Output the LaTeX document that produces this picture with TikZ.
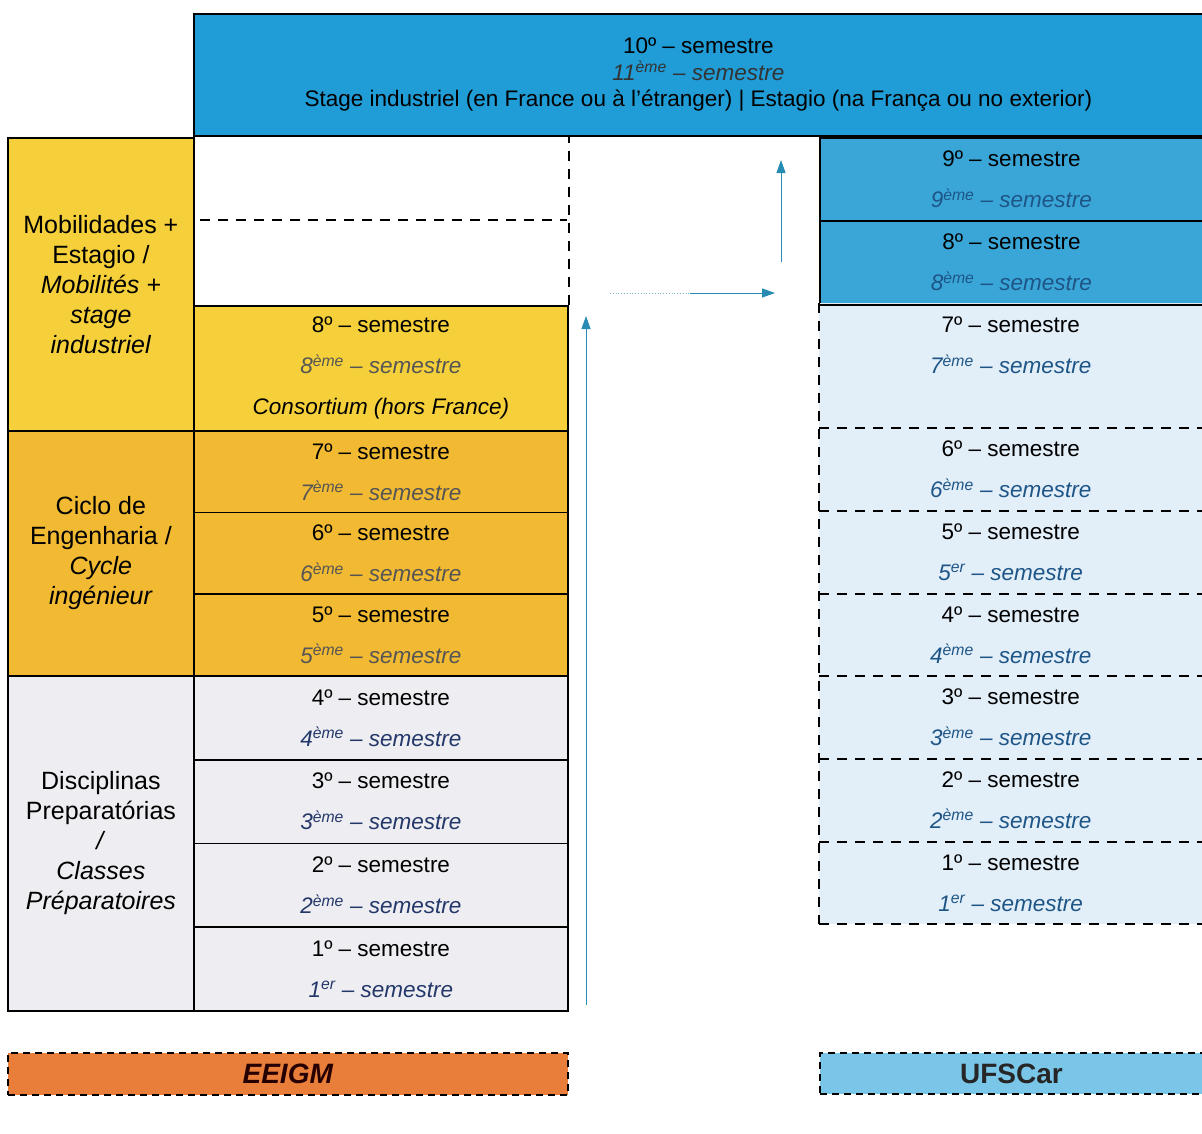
\documentclass[tikz,border=0pt]{standalone}
\usepackage{fontspec}
\setmainfont{Liberation Sans}
\usepackage{xcolor}
\usetikzlibrary{positioning,arrows.meta}

\definecolor{topblue}{RGB}{32,156,214}
\definecolor{rblue}{RGB}{58,166,216}
\definecolor{rlight}{RGB}{226,238,248}
\definecolor{yellowA}{RGB}{245,208,58}
\definecolor{orangeA}{RGB}{241,186,50}
\definecolor{grayA}{RGB}{238,238,242}
\definecolor{eeigmc}{RGB}{232,126,58}
\definecolor{ufscarc}{RGB}{122,198,232}
\definecolor{teal}{RGB}{40,140,178}
\definecolor{grayt}{RGB}{85,85,85}
\definecolor{navyt}{RGB}{35,55,105}
\definecolor{bluet}{RGB}{30,85,135}

% semester cell text: number, ordinal, colour of the french line
\newcommand{\semtxt}[3]{#1º – semestre\\{\itshape\color{#3}#1\textsuperscript{#2} – semestre}}

\begin{document}
\begin{tikzpicture}[x=1pt,y=-1pt,
    box/.style={draw=black, line width=1.8pt, anchor=north west, inner sep=0pt,
      align=center, font=\fontsize{22.5}{41}\selectfont},
    lightcell/.style={fill=rlight, anchor=north west, inner sep=0pt,
      minimum width=383pt, align=center, font=\fontsize{22.5}{41}\selectfont},
    dashline/.style={line width=2pt, dash pattern=on 10pt off 8pt},
    tag/.style={draw=black, line width=2pt, dash pattern=on 7pt off 5pt,
      anchor=north west, inner sep=0pt, font=\fontsize{28}{30}\selectfont\bfseries},
    flow/.style={teal, line width=0.9pt, -{Triangle[length=13pt,width=9pt]}}]

    \fill[white] (0,0) rectangle (1202,1133);
    \useasboundingbox (0,0) rectangle (1202,1133);

    % top band
    \node[box, fill=topblue, minimum width=1009pt, minimum height=122pt,
      font=\fontsize{22.5}{26.5}\selectfont] (top) at (193,13)
      {10º – semestre\\{\itshape\color{black!80}11\textsuperscript{ème} – semestre}\\
       Stage industriel (en France ou à l'étranger) | Estagio (na França ou no exterior)};

    % EEIGM side
    \node[box, fill=yellowA, minimum width=186pt, minimum height=293pt,
      font=\fontsize{25}{30}\selectfont] (mob) at (7,137)
      {Mobilidades +\\Estagio /\\\textit{Mobilités +}\\\textit{stage}\\\textit{industriel}};
    \node[box, fill=orangeA, minimum width=186pt, minimum height=245pt,
      font=\fontsize{25}{30}\selectfont] (cic) at (7,430)
      {Ciclo de\\Engenharia /\\\textit{Cycle}\\\textit{ingénieur}};
    \node[box, fill=grayA, minimum width=186pt, minimum height=335pt,
      font=\fontsize{25}{30}\selectfont] (dis) at (7,675)
      {Disciplinas\\Preparatórias\\\textit{/}\\\textit{Classes}\\\textit{Préparatoires}};

    \node[box, fill=yellowA, minimum width=374pt, minimum height=125pt] (m8) at (193,305)
      {\semtxt{8}{ème}{grayt}\\\textit{Consortium (hors France)}};
    \foreach \n/\y in {7/430,6/511.67,5/593.33}
      \node[box, fill=orangeA, minimum width=374pt, minimum height=81.67pt] (m\n) at (193,\y)
        {\semtxt{\n}{ème}{grayt}};
    \foreach \n/\o/\y in {4/ème/675,3/ème/758.75,2/ème/842.5,1/er/926.25}
      \node[box, fill=grayA, minimum width=374pt, minimum height=83.75pt] (m\n) at (193,\y)
        {\semtxt{\n}{\o}{navyt}};

    \coordinate (dl) at (200,220);
    \coordinate (dr) at (567,220);
    \draw[dashline] (dl) -- (dr);
    \draw[dashline] (m8.north east) -- (m8.north east |- top.south);

    % UFSCar side
    \foreach \n/\y in {9/137,8/220}
      \node[box, fill=rblue, minimum width=383pt, minimum height=83pt] (r\n) at (819,\y)
        {\semtxt{\n}{ème}{bluet}};
    \node[lightcell, minimum height=125pt] (r7) at (819,303)
      {\semtxt{7}{ème}{bluet}\\\mbox{}};
    \foreach \n/\o/\y in {6/ème/428,5/er/510.67,4/ème/593.33,3/ème/676,2/ème/758.67,1/er/841.33}
      \node[lightcell, minimum height=82.67pt] (r\n) at (819,\y)
        {\semtxt{\n}{\o}{bluet}};
    \draw[dashline] (r7.north west) -- (r1.south west);
    \foreach \n in {7,...,1}
      \draw[dashline] (r\n.south west) -- (r\n.south east);
    \draw[line width=1.8pt] (r8.south west) -- (r8.south east);

    % arrows
    \coordinate (up1s) at (586,1005);
    \coordinate (up1e) at (586,316);
    \coordinate (hs) at (610,293);
    \coordinate (hm) at (690,293);
    \coordinate (he) at (775,293);
    \coordinate (up2s) at (781,262);
    \coordinate (up2e) at (781,160);
    \draw[flow] (up1s) -- (up1e);
    \draw[teal!60, dotted, line width=0.8pt] (hs) -- (hm);
    \draw[flow] (hm) -- (he);
    \draw[flow] (up2s) -- (up2e);

    % institutions
    \node[tag, fill=eeigmc, minimum width=560pt, minimum height=42pt,
      text=black!75!red!60!black] (eeigm) at (7,1052) {\textit{EEIGM}};
    \node[tag, fill=ufscarc, minimum width=383pt, minimum height=41pt,
      text=black!85] (ufscar) at (819,1052) {UFSCar};
\end{tikzpicture}
\end{document}
